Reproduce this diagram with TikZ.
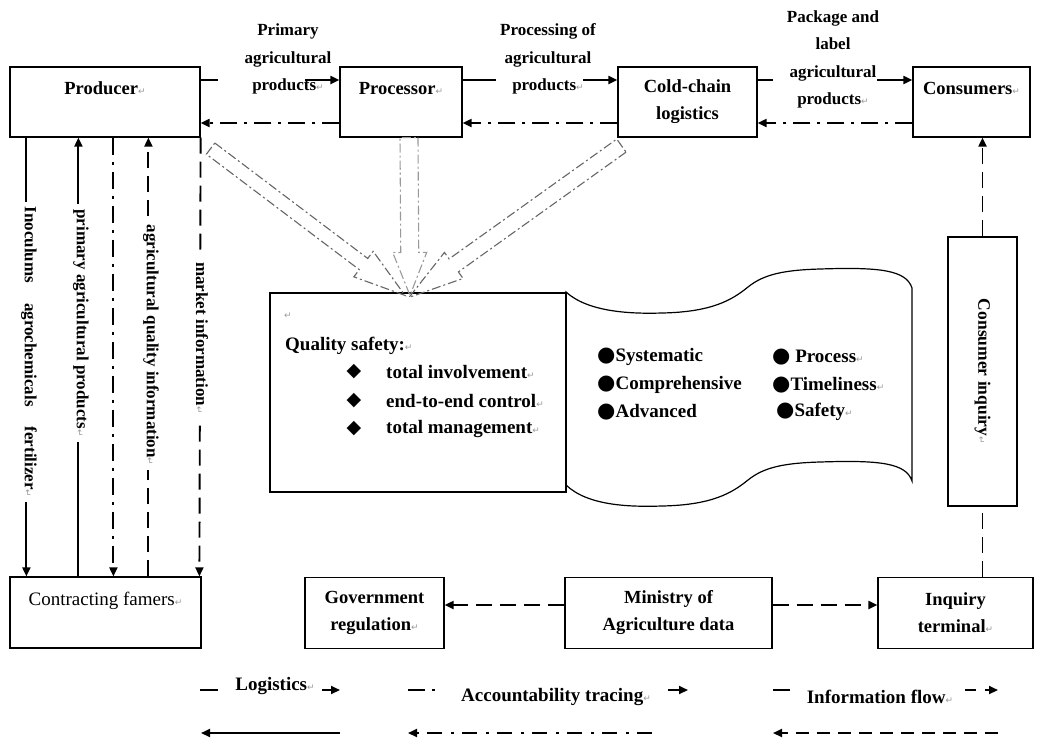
\documentclass[tikz,border=0pt]{standalone}
\usepackage{fontspec}
\setmainfont{Liberation Serif}
\newfontfamily\symf{DejaVu Sans}
\usetikzlibrary{arrows.meta,calc}
\newcommand\retm{{\symf\mdseries\fontsize{9}{9}\selectfont\textcolor{black!40}{↵}}}
\newcommand\bul{{\symf\fontsize{21}{21}\selectfont ●}}
\newcommand\dia{{\symf\fontsize{19}{19}\selectfont ◆}}
\newcommand\blockarr[6]{%
  \coordinate (ba-b) at ($(#2)!#5!(#1)$);
  \draw[#6] ($(#1)!#3!90:(#2)$) -- ($(ba-b)!#3!90:(#2)$) -- ($(ba-b)!#4!90:(#2)$) -- (#2)
    -- ($(ba-b)!#4!-90:(#2)$) -- ($(ba-b)!#3!-90:(#2)$) -- ($(#1)!#3!-90:(#2)$) -- cycle;
}
\begin{document}
\begin{tikzpicture}[x=1pt,y=-1pt,
  font=\bfseries\fontsize{18.5}{27}\selectfont,
  box/.style={draw, line width=1.2pt, align=center, inner sep=0pt},
  conn/.style={line width=1.9pt},
  arr/.style={-{Triangle[length=9pt,width=8pt]}},
  dd/.style={dash pattern=on 17pt off 7pt on 3pt off 7pt},
  ds/.style={dash pattern=on 16pt off 8pt},
  lab/.style={font=\bfseries\fontsize{17}{27.5}\selectfont, align=center, inner sep=0pt},
  vlab/.style={font=\bfseries\fontsize{17}{20}\selectfont, rotate=-90, fill=white, inner xsep=5pt, inner ysep=2pt},
  qt/.style={font=\bfseries\fontsize{19}{24}\selectfont, anchor=west, inner sep=0pt},
  lg/.style={font=\bfseries\fontsize{19}{24}\selectfont, inner sep=0pt},
  ba/.style={draw=black!60, line width=1.1pt, dash pattern=on 9pt off 3pt on 2pt off 3pt, line join=miter}
]
\useasboundingbox (0,0) rectangle (1040,737);

% main boxes
\node[box, minimum width=190pt, minimum height=70pt] (producer) at (105,102) {Producer\retm\\\mbox{}};
\node[box, minimum width=122pt, minimum height=70pt] (processor) at (401,102) {Processor\retm\\\mbox{}};
\node[box, minimum width=139pt, minimum height=70pt] (cold) at (687.5,102) {Cold-chain\\logistics};
\node[box, minimum width=117pt, minimum height=70pt] (consumers) at (971.5,102) {Consumers\retm\\\mbox{}};
\node[box, minimum width=191pt, minimum height=71pt, font=\mdseries\fontsize{19}{27}\selectfont] (farmers) at (105.5,612.5) {Contracting famers\retm\\\mbox{}};
\node[box, minimum width=139pt, minimum height=71pt] (gov) at (374.5,613) {Government\\regulation\retm};
\node[box, minimum width=207pt, minimum height=71pt] (ministry) at (668.5,613) {Ministry of\\Agriculture data};
\node[box, minimum width=155pt, minimum height=71pt] (inquiry) at (955.5,613) {Inquiry\\terminal\retm};
\node[box, minimum width=69pt, minimum height=269pt] (cinq) at (982.5,371.5) {\rotatebox{-90}{\fontsize{17.5}{20}\selectfont Consumer inquiry\retm}};
\node[box, minimum width=296pt, minimum height=199pt] (qbox) at (418,392.5) {};

% banner
\draw[line width=1.2pt] (566,292) .. controls (588,312) and (630,314) .. (662,313)
  .. controls (712,312) and (732,300) .. (748,287)
  .. controls (764,274) and (785,270) .. (820,269)
  .. controls (880,267) and (906,270) .. (912,288)
  -- (912,481)
  .. controls (906,463) and (880,460) .. (820,462)
  .. controls (785,463) and (764,467) .. (748,480)
  .. controls (732,493) and (712,505) .. (662,506)
  .. controls (630,507) and (588,506) .. (566,485) -- cycle;

% quality box text
\node[qt] (q0) at (284,316) {\retm};
\node[qt] (q1) at (285,346) {Quality safety:\retm};
\node (d1) at (354,372) {\dia};
\node (d2) at (354,401) {\dia};
\node (d3) at (354,429) {\dia};
\node[qt] (t1) at (386,372) {total involvement\retm};
\node[qt] (t2) at (386,401) {end-to-end control\retm};
\node[qt] (t3) at (386,429) {total management\retm};

% banner text
\node[qt] (b1) at (597,357) {\bul Systematic};
\node[qt] (b2) at (772,357) {\bul\ Process\retm};
\node[qt] (b3) at (597,385) {\bul Comprehensive};
\node[qt] (b4) at (772,385) {\bul Timeliness\retm};
\node[qt] (b5) at (597,412) {\bul Advanced};
\node[qt] (b6) at (776,412) {\bul Safety\retm};

% top labels
\node[lab] (lab1) at (288,59) {Primary\\agricultural\\products\retm};
\node[lab] (lab2) at (548,59) {Processing of\\agricultural\\products\retm};
\node[lab] (lab3) at (833,59.5) {Package and\\label\\agricultural\\products\retm};

% top connectors
\coordinate (g1a) at (218,80); \coordinate (g1b) at (305,80);
\coordinate (g2a) at (496,80); \coordinate (g2b) at (583,80);
\coordinate (g3a) at (773,80); \coordinate (g3b) at (877,80);
\draw[conn] (producer.north east |- g1a) -- (g1a);
\draw[conn,arr] (g1b) -- (processor.west |- g1b);
\draw[conn] (processor.north east |- g2a) -- (g2a);
\draw[conn,arr] (g2b) -- (cold.west |- g2b);
\draw[conn] (cold.north east |- g3a) -- (g3a);
\draw[conn,arr] (g3b) -- (consumers.west |- g3b);
\draw[conn,arr,dd] ($(processor.west)+(0,21)$) -- ($(producer.east)+(0,21)$);
\draw[conn,arr,dd] ($(cold.west)+(0,21)$) -- ($(processor.east)+(0,21)$);
\draw[conn,arr,dd] ($(consumers.west)+(0,21)$) -- ($(cold.east)+(0,21)$);

% vertical connectors producer <-> farmers
\draw[conn,arr] ($(producer.south west)+(17,0)$) -- ($(farmers.north west)+(17,0)$);
\draw[conn,arr] ($(farmers.north west)+(69,0)$) -- ($(producer.south west)+(69,0)$);
\draw[conn,arr,dd] ($(producer.south west)+(104,0)$) -- ($(farmers.north west)+(104,0)$);
\draw[conn,arr,ds] ($(farmers.north west)+(139,0)$) -- ($(producer.south west)+(139,0)$);
\draw[conn,arr,ds] (producer.south east) -- ($(farmers.north west)+(190,0)$);
\node[vlab] (v1) at (29,352) {Inoculums\hspace{20pt}agrochemicals\hspace{20pt}fertilizer\retm};
\node[vlab] (v2) at (81,323) {primary agricultural products\retm};
\node[vlab] (v3) at (151,345) {agricultural quality information\retm};
\node[vlab] (v4) at (202,338) {market information\retm};

% bottom connectors
\draw[conn,arr,ds] ($(ministry.west)+(0,-8)$) -- ($(gov.east)+(0,-8)$);
\draw[conn,arr,ds] ($(ministry.east)+(0,-8)$) -- ($(inquiry.west)+(0,-8)$);
\draw[conn,ds] (cinq.south |- inquiry.north) -- (cinq.south);
\draw[conn,arr,ds] (cinq.north) -- (cinq.north |- consumers.south);

% block arrows to quality box
\coordinate (tl) at ($(qbox.north)+(-13,3)$);
\coordinate (tm) at ($(qbox.north)+(-8,3)$);
\coordinate (tr) at ($(qbox.north)+(-9,5)$);
\coordinate (sl) at ($(producer.south east)+(10,11)$);
\coordinate (sm) at ($(processor.south)+(8,0)$);
\coordinate (sr) at ($(cold.south west)+(4,8)$);
\blockarr{sl}{tl}{7pt}{16pt}{52pt}{ba}
\blockarr{sr}{tr}{8pt}{16pt}{55pt}{ba}
\blockarr{sm}{tm}{9pt}{17pt}{43pt}{ba, draw=black!40}

% legend
\node[lg] (lg1) at (275,686) {Logistics\retm};
\draw[conn] (200,690) -- (218,690);
\draw[conn,arr] (322,690) -- (340,690);
\draw[conn,arr] (340,733) -- (201,733);
\node[lg] (lg2) at (556,697) {Accountability tracing\retm};
\draw[conn, dash pattern=on 17pt off 7pt on 3pt off 20pt] (408,690) -- (437,690);
\draw[conn,arr] (668,690) -- (688,690);
\draw[conn,arr,dash pattern=on 15pt off 8pt on 3pt off 9pt] (652,733) -- (408,733);
\node[lg] (lg3) at (880,697) {Information flow\retm};
\draw[conn] (773,690) -- (790,690);
\draw[conn,arr,dash pattern=on 11pt off 9pt] (965,690) -- (998,690);
\draw[conn,arr,dash pattern=on 13pt off 8pt] (998,733) -- (773,733);
\end{tikzpicture}
\end{document}
